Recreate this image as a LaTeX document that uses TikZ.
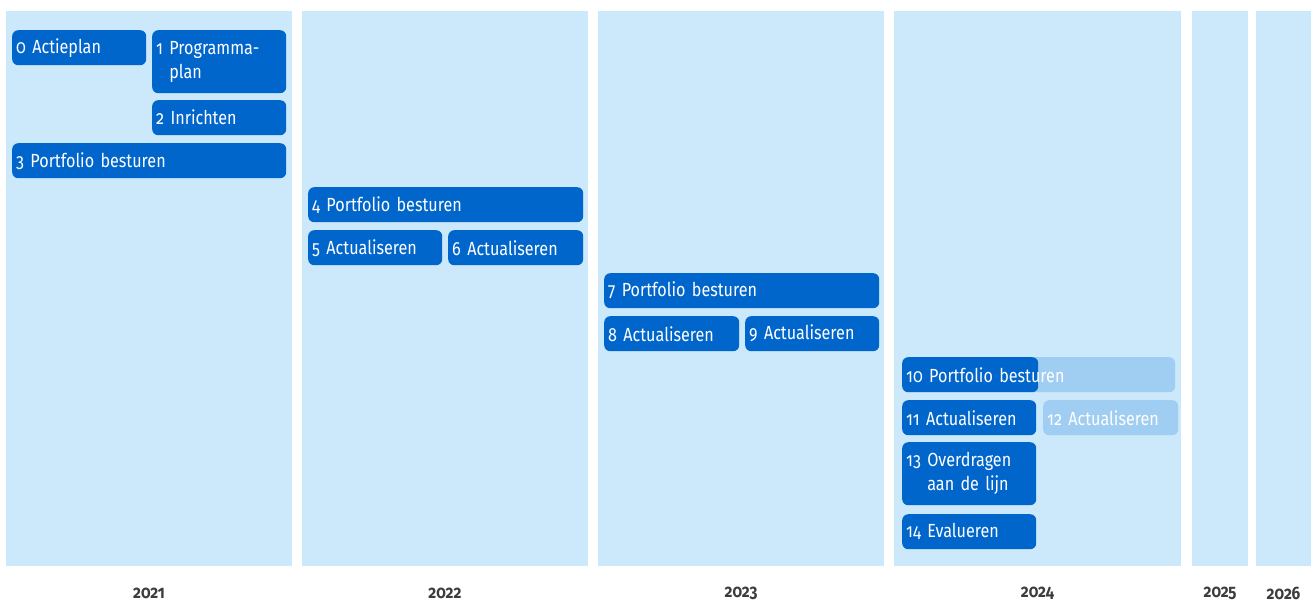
\documentclass[tikz,border=0pt]{standalone}
\usepackage{fontspec}
\setmainfont{Fira Sans}[Numbers=OldStyle,FakeStretch=0.85]
\definecolor{colfill}{RGB}{204,232,251}
\definecolor{barblue}{RGB}{0,102,204}
\definecolor{dimblue}{RGB}{160,205,242}
\definecolor{yeargray}{RGB}{60,60,60}
\newcommand\barfont{\fontsize{19}{24}\selectfont\spaceskip=0.22em\relax}

\begin{document}
\begin{tikzpicture}[x=1pt,y=-1pt]
		\tikzstyle{bar} = [rectangle,fill=barblue,rounded corners=6pt,anchor=north west,inner xsep=4pt,inner ysep=0pt,text=white,font=\barfont,minimum height=35pt,text width=126pt,align=left]
		\tikzstyle{dimbar} = [bar,fill=dimblue]
		\tikzstyle{year} = [text=yeargray,font=\fontsize{18}{20}\selectfont\bfseries]
		
		\useasboundingbox (0,0) rectangle (1316,605);
		
		% year columns
		\foreach \xa/\xb/\yr in {6/292/2021,302/588/2022,598/884/2023,894/1181/2024,1192/1248/2025,1256/1311/2026} {
			\fill[colfill] (\xa,11) rectangle (\xb,566);
			\node[year] (y\yr) at ({(\xa+\xb)/2},593) {\yr};
		}
		
		% 2021
		\node[bar] (actieplan) at (12,30) {0 Actieplan};
		\node[bar,minimum height=63pt] (programmaplan) at (152,30) {1~\parbox[t]{110pt}{Programma-\\plan}};
		\node[bar] (inrichten) at (152,100) {2 Inrichten};
		\node[bar,text width=266pt] (portfolio3) at (12,143) {3 Portfolio besturen};
		
		% 2022
		\node[bar,text width=267pt] (portfolio4) at (308,187) {4 Portfolio besturen};
		\node[bar] (actual5) at (308,230) {5 Actualiseren};
		\node[bar,text width=127pt] (actual6) at (448,230) {6 Actualiseren};
		
		% 2023
		\node[bar,text width=267pt] (portfolio7) at (604,273) {7 Portfolio besturen};
		\node[bar,text width=127pt] (actual8) at (604,316) {8 Actualiseren};
		\node[bar,text width=126pt] (actual9) at (745,316) {9 Actualiseren};
		
		% 2024
		\node[dimbar,text width=265pt,path picture={\fill[barblue] (path picture bounding box.north west) rectangle ([xshift=136pt]path picture bounding box.south west);}] (portfolio10) at (902,357) {10 Portfolio besturen};
		\node[bar] (actual11) at (902,400) {11 Actualiseren};
		\node[dimbar,text width=127pt] (actual12) at (1043,400) {12 Actualiseren};
		\node[bar,minimum height=63pt] (overdragen13) at (902,442) {13~\parbox[t]{100pt}{Overdragen\\aan de lijn}};
		\node[bar] (evalueren14) at (902,514) {14 Evalueren};
	\end{tikzpicture}
\end{document}
